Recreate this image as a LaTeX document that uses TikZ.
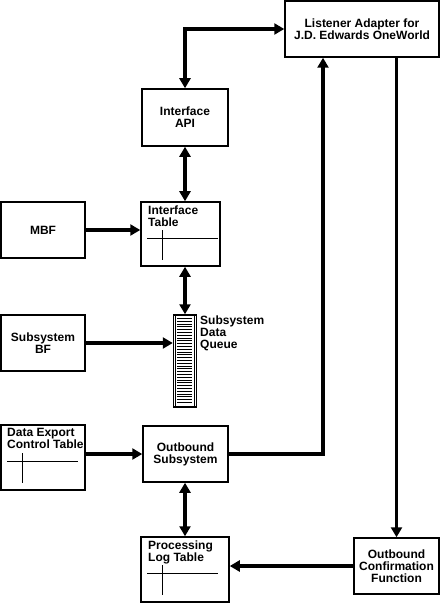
\documentclass[tikz,border=0pt]{standalone}
\usepackage{fontspec}
\setmainfont{Liberation Sans}
\usetikzlibrary{arrows.meta}

\tikzset{
  box/.style={draw, line width=1.5bp, inner sep=0pt, align=center,
    minimum width=85bp, minimum height=56bp},
  tlabel/.style={anchor=north west, inner sep=0pt, align=left},
  cross/.style={line width=1.2bp},
  link/.style={line width=3.2bp, -{Triangle[length=10bp,width=11bp]}},
  dlink/.style={line width=3.2bp, {Triangle[length=10bp,width=11bp]}-{Triangle[length=10bp,width=11bp]}},
}

\begin{document}
\begin{tikzpicture}[x=1bp,y=-1bp,font=\bfseries\fontsize{12bp}{12bp}\selectfont]
\useasboundingbox (0,0) rectangle (440,603);

\node[box, minimum width=154bp] (listener) at (362, 29) {Listener Adapter for\\J.D. Edwards OneWorld};
\node[box, minimum width=86bp, minimum height=57bp] (api) at (185, 117.5) {Interface\\API};
\node[box, minimum width=79bp, minimum height=64bp] (itab) at (180.5, 234) {};
\node[tlabel] at (148, 206) {Interface\\Table};
\node[box, minimum width=84bp] (mbf) at (43, 230) {MBF};
\node[box, minimum width=23bp, minimum height=92bp] (queue) at (185, 361) {};
\node[tlabel] at (200, 316) {Subsystem\\Data\\Queue};
\node[box, minimum width=84bp] (sbf) at (43, 343) {Subsystem\\BF};
\node[box, minimum width=84bp, minimum height=65bp] (dect) at (43, 457.5) {};
\node[tlabel] at (7, 428) {Data Export\\Control Table};
\node[box] (outsub) at (185.5, 454) {Outbound\\Subsystem};
\node[box, minimum width=88bp, minimum height=65bp] (plog) at (185, 569.5) {};
\node[tlabel] at (148, 541) {Processing\\Log Table};
\node[box] (conf) at (396.5, 566) {Outbound\\Confirmation\\Function};

% table rulings
\foreach \t in {itab,dect,plog}
  \draw[cross] (\t.north west) ++(7,37) -- ++(71,0)
               (\t.north west) ++(22,29) -- ++(0,30);
\draw[line width=.6bp] (queue.north west) ++(3,0) -- ++(0,92)
                       (queue.north east) ++(-3,0) -- ++(0,92);
\foreach \i in {0,...,30}
  \draw[line width=.6bp] (queue.north west) ++(4, 4+\i*2.8) -- ++(15,0);

\draw[dlink] (api.north) |- (listener.west);
\draw[dlink] (api.south) -- (itab.north -| api.south);
\draw[link] (mbf.east) -- (mbf.east -| itab.west);
\draw[dlink] (itab.south -| queue.north) -- (queue.north);
\draw[link] (sbf.east) -- (sbf.east -| queue.west);
\draw[link] (dect.east |- outsub.west) -- (outsub.west);
\draw[link] (outsub.east) -| ([xshift=-39bp]listener.south);
\draw[link] (listener.south -| conf.north) -- (conf.north);
\draw[dlink] (outsub.south -| plog.north) -- (plog.north);
\draw[link] (conf.west) -- (conf.west -| plog.east);

\end{tikzpicture}
\end{document}
